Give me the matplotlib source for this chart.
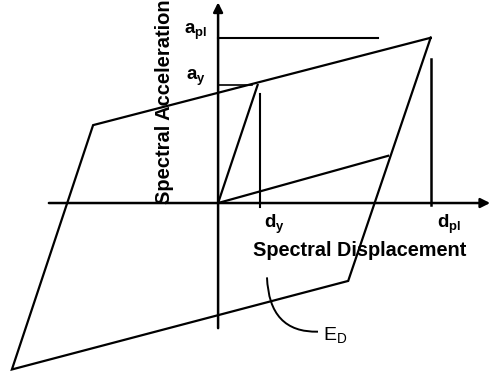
import matplotlib
matplotlib.use("Agg")
import matplotlib.pyplot as plt
from matplotlib.path import Path
from matplotlib.patches import PathPatch

plt.rcParams["font.family"] = ["Liberation Sans", "DejaVu Sans"]
plt.rcParams["mathtext.fontset"] = "custom"
plt.rcParams["mathtext.rm"] = "Liberation Sans"
plt.rcParams["mathtext.it"] = "Liberation Sans:italic"
plt.rcParams["mathtext.bf"] = "Liberation Sans:bold"

# Hysteresis loop (displacement, acceleration), traced around the parallelogram
loop_d = [5.0, -2.94, -4.85, 3.06, 5.0]
loop_a = [1.40, 0.66, -1.41, -0.66, 1.40]

# Elastic branch up to yield and the reloading branch from the origin
yield_d, yield_a = 0.93, 1.0
reload_end_d, reload_end_a = 4.0, 0.40

# Reference values on the axes
d_y = 0.99
d_pl = 5.0
a_y = 1.0
a_pl = 1.4

# Axis extents
x_axis = (-3.98, 6.4)
y_axis = (-1.06, 1.70)

fig = plt.figure(figsize=(4.94, 3.73), dpi=100)
ax = fig.add_axes([0, 0, 1, 1])
ax.set_xlim(-5.13, 6.49)
ax.set_ylim(-1.44, 1.72)
ax.axis("off")

lw = 1.6
ax.plot(loop_d, loop_a, color="black", lw=lw, solid_joinstyle="miter")
ax.plot([0, yield_d], [0, yield_a], color="black", lw=lw)
ax.plot([0, reload_end_d], [0, reload_end_a], color="black", lw=lw)

# Coordinate axes with arrow heads
ax.annotate("", xy=(x_axis[1], 0), xytext=(x_axis[0], 0),
            arrowprops=dict(arrowstyle="-|>", color="black", lw=1.8,
                            mutation_scale=14, shrinkA=0, shrinkB=0))
ax.annotate("", xy=(0, y_axis[1]), xytext=(0, y_axis[0]),
            arrowprops=dict(arrowstyle="-|>", color="black", lw=1.8,
                            mutation_scale=14, shrinkA=0, shrinkB=0))

# Reference lines
ax.plot([0, 0.8], [a_y, a_y], color="black", lw=1.2)
ax.plot([0, 3.75], [a_pl, a_pl], color="black", lw=1.5)
ax.plot([d_y, d_y], [-0.03, 0.92], color="black", lw=1.5)
ax.plot([d_pl, d_pl], [-0.02, 1.22], color="black", lw=1.8)

# Axis titles
ax.text(-1.25, 0.86, "Spectral Acceleration", rotation=90, ha="center",
        va="center", fontsize=14.5, fontweight="bold")
ax.text(3.34, -0.40, "Spectral Displacement", ha="center", va="center",
        fontsize=14.3, fontweight="bold")

# Value labels
ax.text(-0.25, 1.45, r"$\mathbf{a}_{\mathbf{pl}}$", ha="right", va="center",
        fontsize=13.5)
ax.text(-0.30, 1.06, r"$\mathbf{a}_{\mathbf{y}}$", ha="right", va="center",
        fontsize=13.5)
ax.text(1.32, -0.18, r"$\mathbf{d}_{\mathbf{y}}$", ha="center", va="center",
        fontsize=13.5)
ax.text(5.43, -0.18, r"$\mathbf{d}_{\mathbf{pl}}$", ha="center", va="center",
        fontsize=13.5)
ax.text(2.47, -1.12, r"$\mathrm{E}_{\mathrm{D}}$", ha="left", va="center",
        fontsize=14)

# Curved leader pointing at the enclosed area
leader = Path([(1.15, -0.63), (1.2, -1.10), (2.35, -1.09)],
              [Path.MOVETO, Path.CURVE3, Path.CURVE3])
ax.add_patch(PathPatch(leader, fill=False, color="black", lw=1.4))

fig.savefig("out.png", dpi=100)
